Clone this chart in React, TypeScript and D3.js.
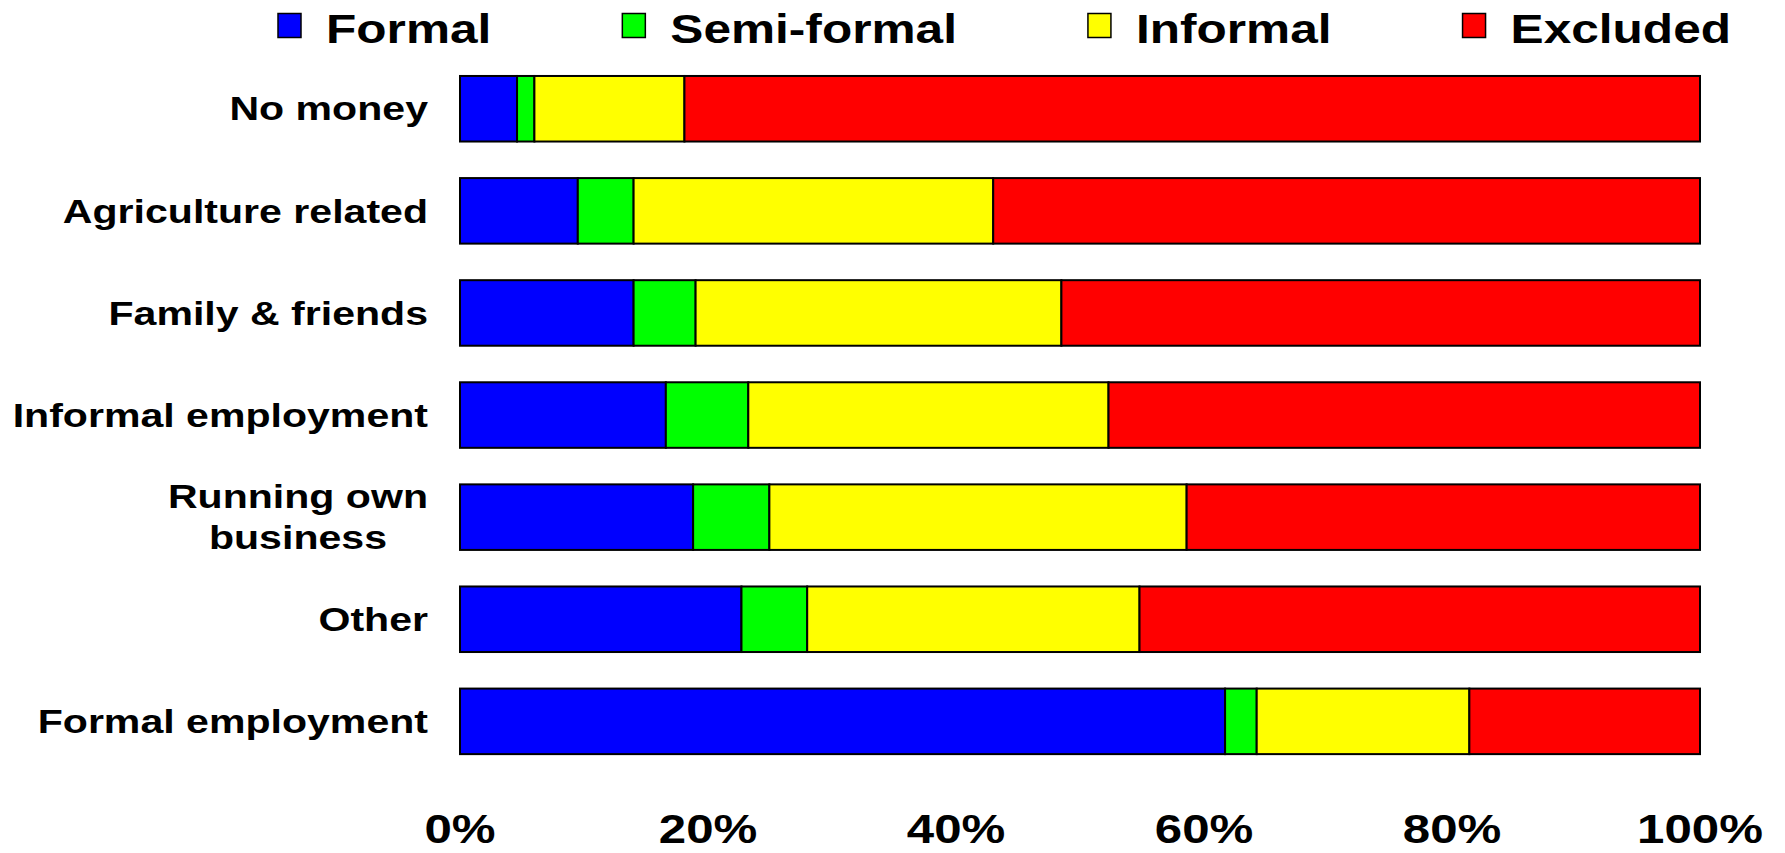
import React, { useEffect, useRef } from "react";
import * as d3 from "d3";

const categories: string[][] = [
  ["No money"],
  ["Agriculture related"],
  ["Family & friends"],
  ["Informal employment"],
  ["Running own", "business"],
  ["Other"],
  ["Formal employment"],
];
const seriesNames = ["Formal", "Semi-formal", "Informal", "Excluded"];
const formalVals = [4.6, 9.5, 14.0, 16.6, 18.8, 22.7, 61.7];
const semiFormalVals = [1.4, 4.5, 5.0, 6.65, 6.15, 5.3, 2.55];
const informalVals = [12.1, 29.0, 29.5, 29.05, 33.65, 26.8, 17.15];
const excludedVals = [81.9, 57.0, 51.5, 47.7, 41.4, 45.2, 18.6];
const seriesColors = ["#0000FF", "#00FF00", "#FFFF00", "#FF0000"];
const xTicks = [0, 20, 40, 60, 80, 100];

const W = 1785;
const H = 853;
const FONT = "'Liberation Sans', Arial, Helvetica, sans-serif";
const STRETCH = 1.23;
const Y_STRETCH = 1.26;

export default function App() {
  const ref = useRef<SVGSVGElement | null>(null);

  useEffect(() => {
    const svg = d3.select(ref.current);
    svg.selectAll("*").remove();

    const keys = categories.map((c) => c.join(" "));
    const rows = keys.map((k, i) => ({
      key: k,
      Formal: formalVals[i],
      "Semi-formal": semiFormalVals[i],
      Informal: informalVals[i],
      Excluded: excludedVals[i],
    }));
    const stack = d3.stack<any>().keys(seriesNames)(rows);

    const x = d3.scaleLinear().domain([0, 100]).range([460, 1700]);
    const y = d3
      .scaleBand<string>()
      .domain(keys)
      .range([57.7, 772.4])
      .paddingInner(0.358)
      .paddingOuter(0.179);

    // bars
    const g = svg.append("g");
    stack.forEach((layer, si) => {
      g.append("g")
        .selectAll("rect")
        .data(layer)
        .join("rect")
        .attr("x", (d: any) => x(d[0]))
        .attr("y", (d: any) => y(d.data.key)!)
        .attr("width", (d: any) => x(d[1]) - x(d[0]))
        .attr("height", y.bandwidth())
        .attr("fill", seriesColors[si])
        .attr("stroke", "#000")
        .attr("stroke-width", 2);
    });

    // y labels
    const yFont = 32.6;
    const labelRight = 428;
    categories.forEach((lines, i) => {
      const cy = y(keys[i])! + y.bandwidth() / 2;
      const lineH = 40.7;
      const base = cy + 0.358 * yFont - ((lines.length - 1) * lineH) / 2;
      const grp = svg
        .append("g")
        .attr("transform", `translate(${labelRight},0) scale(${Y_STRETCH},1)`);
      const texts = lines.map((t, li) =>
        grp
          .append("text")
          .attr("y", base + li * lineH)
          .attr("font-family", FONT)
          .attr("font-weight", "bold")
          .attr("font-size", yFont)
          .attr("fill", "#000")
          .text(t)
      );
      if (lines.length === 1) {
        texts[0].attr("x", 0).attr("text-anchor", "end");
      } else {
        const widths = texts.map((t) => (t.node() as SVGTextElement).getComputedTextLength());
        const maxW = Math.max(...widths);
        texts.forEach((t) => t.attr("x", -maxW / 2).attr("text-anchor", "middle"));
      }
    });

    // x tick labels
    xTicks.forEach((t) => {
      svg
        .append("g")
        .attr("transform", `translate(${x(t)},843) scale(${STRETCH},1)`)
        .append("text")
        .attr("text-anchor", "middle")
        .attr("font-family", FONT)
        .attr("font-weight", "bold")
        .attr("font-size", 40)
        .attr("fill", "#000")
        .text(`${t}%`);
    });

    // legend
    let lx = 278;
    const sq = 23;
    seriesNames.forEach((name, i) => {
      svg
        .append("rect")
        .attr("x", lx)
        .attr("y", 13.5)
        .attr("width", sq)
        .attr("height", 24)
        .attr("fill", seriesColors[i])
        .attr("stroke", "#000")
        .attr("stroke-width", 1.5);
      const tx = lx + sq + 25;
      const tg = svg.append("g").attr("transform", `translate(${tx},42.5) scale(${STRETCH + 0.01},1)`);
      const text = tg
        .append("text")
        .attr("x", 0)
        .attr("y", 0)
        .attr("font-family", FONT)
        .attr("font-weight", "bold")
        .attr("font-size", 40)
        .attr("fill", "#000")
        .text(name);
      const w = (text.node() as SVGTextElement).getComputedTextLength() * (STRETCH + 0.01);
      lx = tx + w + 131;
    });
  }, []);

  return (
    <>
      <style>{`body{margin:0;background:#fff}`}</style>
      <svg
        ref={ref}
        width={W}
        height={H}
        viewBox={`0 0 ${W} ${H}`}
        style={{ display: "block", background: "#fff" }}
      />
    </>
  );
}
